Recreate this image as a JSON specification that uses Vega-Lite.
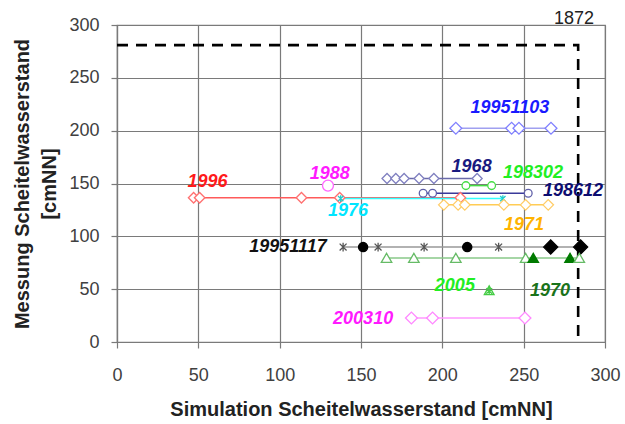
{
  "$schema": "https://vega.github.io/schema/vega-lite/v6.json",
  "autosize": {"type": "none"},
  "width": 488,
  "height": 317,
  "padding": {"left": 117, "top": 25, "right": 20, "bottom": 82},
  "background": "white",
  "view": {"stroke": "#808080", "strokeWidth": 1.2},
  "config": {
    "font": "Liberation Sans",
    "axis": {
      "labelFont": "Liberation Sans",
      "labelFontSize": 18,
      "labelColor": "#404040",
      "labelFlush": false,
      "labelOverlap": false,
      "titleFont": "Liberation Sans",
      "titleFontSize": 20,
      "titleFontWeight": "bold",
      "titleColor": "#222222",
      "gridColor": "#7a7a7a",
      "gridOpacity": 1,
      "gridWidth": 1.2,
      "domainColor": "#7a7a7a",
      "domainWidth": 1.2,
      "tickColor": "#7a7a7a",
      "tickSize": 6,
      "tickWidth": 1.2
    }
  },
  "datasets": {
    "pts": [
      {"series": "1996", "group": "1996", "x": 47.1, "y": 136.5},
      {"series": "1996", "group": "1996", "x": 50.8, "y": 136.5},
      {"series": "1996", "group": "1996", "x": 113.4, "y": 136.5},
      {"series": "1996", "group": "1996", "x": 136.9, "y": 136.5},
      {"series": "1996", "group": "1996", "x": 211.1, "y": 136.5},
      {"series": "1988", "group": "1988", "x": 129.7, "y": 148},
      {"series": "1976", "group": "1976", "x": 137.5, "y": 135.7},
      {"series": "1976", "group": "1976", "x": 237.2, "y": 135.7},
      {"series": "1968", "group": "1968", "x": 166, "y": 154.7},
      {"series": "1968", "group": "1968", "x": 171.4, "y": 154.7},
      {"series": "1968", "group": "1968", "x": 176.5, "y": 154.7},
      {"series": "1968", "group": "1968", "x": 185.7, "y": 154.7},
      {"series": "1968", "group": "1968", "x": 194.8, "y": 154.7},
      {"series": "1968", "group": "1968", "x": 221.4, "y": 154.7},
      {"series": "19951103", "group": "19951103", "x": 208.3, "y": 202.3},
      {"series": "19951103", "group": "19951103", "x": 242.6, "y": 202.3},
      {"series": "19951103", "group": "19951103", "x": 247.1, "y": 202.3},
      {"series": "19951103", "group": "19951103", "x": 266.8, "y": 202.3},
      {"series": "198302", "group": "198302", "x": 214.5, "y": 148},
      {"series": "198302", "group": "198302", "x": 230.3, "y": 148},
      {"series": "198612", "group": "198612", "x": 188.2, "y": 140.8},
      {"series": "198612", "group": "198612", "x": 194, "y": 140.8},
      {"series": "198612", "group": "198612", "x": 252.8, "y": 140.8},
      {"series": "1971", "group": "1971", "x": 200.9, "y": 129.8},
      {"series": "1971", "group": "1971", "x": 209.7, "y": 129.8},
      {"series": "1971", "group": "1971", "x": 213.8, "y": 129.8},
      {"series": "1971", "group": "1971", "x": 237.8, "y": 129.8},
      {"series": "1971", "group": "1971", "x": 251.2, "y": 129.8},
      {"series": "1971", "group": "1971", "x": 265.1, "y": 129.8},
      {"series": "19951117", "group": "19951117 a", "x": 139, "y": 89.8},
      {"series": "19951117", "group": "19951117 b", "x": 151.3, "y": 89.8},
      {"series": "19951117", "group": "19951117 a", "x": 160.5, "y": 89.8},
      {"series": "19951117", "group": "19951117 a", "x": 188.8, "y": 89.8},
      {"series": "19951117", "group": "19951117 b", "x": 215.3, "y": 89.8},
      {"series": "19951117", "group": "19951117 a", "x": 234.6, "y": 89.8},
      {"series": "19951117", "group": "19951117 c", "x": 266.6, "y": 89.8},
      {"series": "19951117", "group": "19951117 c", "x": 285, "y": 89.8},
      {"series": "1970", "group": "1970 a", "x": 165.7, "y": 79.6},
      {"series": "1970", "group": "1970 a", "x": 182.5, "y": 79.6},
      {"series": "1970", "group": "1970 a", "x": 208.3, "y": 79.6},
      {"series": "1970", "group": "1970 a", "x": 251.2, "y": 79.6},
      {"series": "1970", "group": "1970 b", "x": 255.9, "y": 79.6},
      {"series": "1970", "group": "1970 b", "x": 278.5, "y": 79.6},
      {"series": "1970", "group": "1970 a", "x": 284.2, "y": 79.6},
      {"series": "2005", "group": "2005", "x": 228.8, "y": 48.5},
      {"series": "200310", "group": "200310", "x": 181, "y": 22.7},
      {"series": "200310", "group": "200310", "x": 194, "y": 22.7},
      {"series": "200310", "group": "200310", "x": 250.8, "y": 22.7}
    ],
    "labels": [
      {"label": "1996", "x": 55.7, "y": 151.8},
      {"label": "1988", "x": 130.8, "y": 159},
      {"label": "1976", "x": 142, "y": 124.4},
      {"label": "1968", "x": 218, "y": 166},
      {"label": "19951103", "x": 241.5, "y": 221.5},
      {"label": "198302", "x": 255.7, "y": 160},
      {"label": "198612", "x": 280.3, "y": 143.3},
      {"label": "1971", "x": 250.2, "y": 111},
      {"label": "19951117", "x": 105.1, "y": 90},
      {"label": "1970", "x": 266.2, "y": 47.8},
      {"label": "2005", "x": 207.7, "y": 53},
      {"label": "200310", "x": 151.3, "y": 22}
    ],
    "ref": [
      {"x": 0, "y": 281, "o": 1},
      {"x": 283.5, "y": 281, "o": 2},
      {"x": 283.5, "y": 0, "o": 3}
    ],
    "reflabel": [
      {"label": "1872", "x": 281, "y": 306}
    ]
  },
  "encoding": {
    "x": {
      "field": "x", "type": "quantitative",
      "scale": {"domain": [0, 300], "nice": false, "zero": false},
      "axis": {"values": [0, 50, 100, 150, 200, 250, 300], "title": "Simulation Scheitelwasserstand [cmNN]", "labelPadding": 18, "titlePadding": 15}
    },
    "y": {
      "field": "y", "type": "quantitative",
      "scale": {"domain": [0, 300], "nice": false, "zero": false},
      "axis": {"values": [0, 50, 100, 150, 200, 250, 300], "title": ["Messung Scheitelwasserstand", "[cmNN]"], "labelPadding": 12, "titlePadding": 9, "titleLineHeight": 27}
    }
  },
  "layer": [
    {
      "data": {"name": "ref"},
      "mark": {"type": "line", "stroke": "#000000", "strokeWidth": 2.6, "strokeDash": [11, 8]},
      "encoding": {"order": {"field": "o", "type": "quantitative"}}
    },
    {
      "data": {"name": "pts"},
      "mark": {"type": "line", "strokeWidth": 1.5},
      "encoding": {
        "detail": {"field": "series"},
        "color": {
          "field": "series", "type": "nominal", "legend": null,
          "scale": {
            "type": "ordinal",
            "domain": ["1996", "1988", "1976", "1968", "19951103", "198302", "198612", "1971", "19951117", "1970", "2005", "200310"],
            "range": ["#ff5a5a", "#ff66ff", "#33ffff", "#6a6aaa", "#a0a0f0", "#44dd44", "#3a3a9a", "#ffcc55", "#999999", "#88c888", "#44cc44", "#ff99ff"]
          }
        },
        "strokeWidth": {
          "field": "series", "type": "nominal", "legend": null,
          "scale": {
            "type": "ordinal",
            "domain": ["1996", "1988", "1976", "1968", "19951103", "198302", "198612", "1971", "19951117", "1970", "2005", "200310"],
            "range": [1.5, 1.5, 1.8, 1.5, 3, 1.5, 1.5, 1.5, 1.5, 1.5, 1.5, 1.5]
          }
        }
      }
    },
    {
      "data": {"name": "pts"},
      "mark": {"type": "point", "strokeWidth": 1.3, "opacity": 1},
      "encoding": {
        "shape": {
          "field": "group", "type": "nominal", "legend": null,
          "scale": {
            "type": "ordinal",
            "domain": ["1996", "1988", "1976", "1968", "19951103", "198302", "198612", "1971", "19951117 a", "19951117 b", "19951117 c", "1970 a", "1970 b", "2005", "200310"],
            "range": ["diamond", "circle", "M-0.8,-0.8L0.8,0.8M-0.8,0.8L0.8,-0.8M0,-1L0,1", "diamond", "diamond", "circle", "circle", "diamond", "M-0.8,-0.8L0.8,0.8M-0.8,0.8L0.8,-0.8M0,-1L0,1", "circle", "diamond", "triangle-up", "triangle-up", "M0,-1L1,0.8L-1,0.8ZM-0.6,-0.5L0.6,0.6M-0.6,0.6L0.6,-0.5M0,-1L0,0.8", "diamond"]
          }
        },
        "stroke": {
          "field": "group", "type": "nominal", "legend": null,
          "scale": {
            "type": "ordinal",
            "domain": ["1996", "1988", "1976", "1968", "19951103", "198302", "198612", "1971", "19951117 a", "19951117 b", "19951117 c", "1970 a", "1970 b", "2005", "200310"],
            "range": ["#ff7070", "#ff66ff", "#22cccc", "#8080c0", "#8080ff", "#44dd44", "#6060a8", "#ffcc66", "#555555", "#000000", "#000000", "#66bb66", "#007a00", "#44cc44", "#ff88ff"]
          }
        },
        "fill": {
          "field": "group", "type": "nominal", "legend": null,
          "scale": {
            "type": "ordinal",
            "domain": ["1996", "1988", "1976", "1968", "19951103", "198302", "198612", "1971", "19951117 a", "19951117 b", "19951117 c", "1970 a", "1970 b", "2005", "200310"],
            "range": ["#ffffff", "#ffffff", "transparent", "#ffffff", "#ffffff", "#ffffff", "#ffffff", "#ffffff", "transparent", "#000000", "#000000", "#ffffff", "#007a00", "transparent", "#ffffff"]
          }
        },
        "size": {
          "field": "group", "type": "nominal", "legend": null,
          "scale": {
            "type": "ordinal",
            "domain": ["1996", "1988", "1976", "1968", "19951103", "198302", "198612", "1971", "19951117 a", "19951117 b", "19951117 c", "1970 a", "1970 b", "2005", "200310"],
            "range": [110, 120, 45, 100, 140, 60, 60, 110, 75, 85, 200, 110, 110, 95, 140]
          }
        }
      }
    },
    {
      "data": {"name": "labels"},
      "mark": {"type": "text", "font": "Liberation Sans", "fontSize": 18, "fontWeight": "bold", "fontStyle": "italic", "align": "center", "baseline": "middle"},
      "encoding": {
        "text": {"field": "label"},
        "color": {
          "field": "label", "type": "nominal", "legend": null,
          "scale": {
            "type": "ordinal",
            "domain": ["1996", "1988", "1976", "1968", "19951103", "198302", "198612", "1971", "19951117", "1970", "2005", "200310"],
            "range": ["#ff1a1a", "#ff1aff", "#00e5ff", "#1a1a80", "#1a1aff", "#22ee22", "#0d0d70", "#ffb300", "#111111", "#1a731a", "#22ee22", "#ff1aff"]
          }
        }
      }
    },
    {
      "data": {"name": "reflabel"},
      "mark": {"type": "text", "font": "Liberation Sans", "fontSize": 18, "color": "#222222", "align": "center", "baseline": "middle"},
      "encoding": {"text": {"field": "label"}}
    }
  ],
  "resolve": {"scale": {"color": "independent", "fill": "independent", "stroke": "independent", "shape": "independent", "size": "independent", "strokeWidth": "independent"}}
}
